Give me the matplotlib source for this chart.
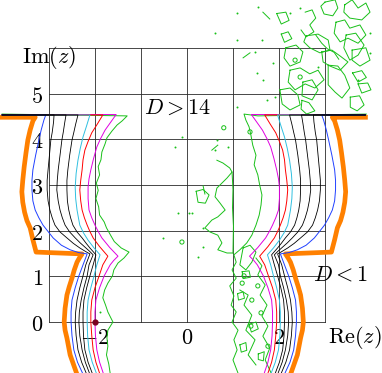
import numpy as np
import matplotlib
matplotlib.use("Agg")
import matplotlib.pyplot as plt

plt.rcParams['mathtext.fontset'] = 'cm'
plt.rcParams['font.family'] = 'serif'

# grid and tick values
grid_re = [-3, -2, -1, 0, 1, 2, 3]
grid_im = [0, 1, 2, 3, 4, 5, 6]
re_ticks = [-2, 0, 2]
im_ticks = [0, 1, 2, 3, 4, 5]

# left-hand contour curves, (Re, Im)
orange_left = [(-4.02, 4.48), (-3.30, 4.48), (-3.35, 4.40), (-3.41, 4.20), (-3.46, 3.98),
               (-3.50, 3.70), (-3.54, 3.39), (-3.57, 3.10), (-3.59, 2.85), (-3.57, 2.62),
               (-3.53, 2.40), (-3.48, 2.22), (-3.41, 2.06), (-3.35, 1.80), (-3.28, 1.53),
               (-2.28, 1.49), (-2.34, 1.40), (-2.39, 1.31), (-2.45, 1.14), (-2.50, 0.96),
               (-2.56, 0.77), (-2.61, 0.59), (-2.65, 0.30), (-2.67, 0.00), (-2.65, -0.18),
               (-2.61, -0.35), (-2.54, -0.72), (-2.47, -0.92), (-2.40, -1.12)]
blue_left = [(-4.02, 4.53), (-3.07, 4.53), (-3.11, 4.42), (-3.17, 4.20), (-3.22, 3.98),
             (-3.29, 3.65), (-3.35, 3.33), (-3.37, 3.10), (-3.37, 2.89), (-3.35, 2.65),
             (-3.30, 2.45), (-3.22, 2.28), (-3.13, 2.12), (-2.91, 1.84), (-2.73, 1.68),
             (-2.54, 1.58), (-2.36, 1.52), (-2.17, 1.49), (-2.26, 1.25), (-2.35, 1.01),
             (-2.43, 0.75), (-2.50, 0.48), (-2.52, 0.22), (-2.52, 0.00), (-2.50, -0.30),
             (-2.46, -0.61), (-2.38, -0.88), (-2.27, -1.12)]
blackA_left = [(-4.02, 4.53), (-2.89, 4.53), (-2.90, 4.38), (-2.93, 4.15), (-2.96, 3.98),
               (-2.99, 3.65), (-3.02, 3.33), (-3.04, 3.10), (-3.04, 2.89), (-3.02, 2.65),
               (-2.98, 2.45), (-2.93, 2.28), (-2.87, 2.12), (-2.76, 1.97), (-2.61, 1.84),
               (-2.47, 1.72), (-2.33, 1.62), (-2.20, 1.54), (-2.11, 1.49), (-2.20, 1.25),
               (-2.26, 1.01), (-2.33, 0.75), (-2.39, 0.48), (-2.42, 0.22), (-2.43, 0.00),
               (-2.41, -0.30), (-2.37, -0.61), (-2.29, -0.88), (-2.19, -1.12)]
blackB_left = [(-4.02, 4.53), (-2.63, 4.53), (-2.66, 4.35), (-2.69, 4.15), (-2.72, 3.98),
               (-2.76, 3.65), (-2.80, 3.33), (-2.82, 3.10), (-2.83, 2.89), (-2.80, 2.65),
               (-2.76, 2.45), (-2.71, 2.28), (-2.65, 2.12), (-2.55, 1.97), (-2.43, 1.84),
               (-2.32, 1.73), (-2.22, 1.64), (-2.12, 1.55), (-2.04, 1.47), (-2.13, 1.25),
               (-2.17, 1.01), (-2.24, 0.75), (-2.30, 0.48), (-2.34, 0.22), (-2.35, 0.00),
               (-2.33, -0.30), (-2.28, -0.61), (-2.21, -0.88), (-2.12, -1.12)]
blackC_left = [(-4.02, 4.53), (-2.37, 4.53), (-2.42, 4.33), (-2.46, 4.15), (-2.50, 3.98),
               (-2.55, 3.65), (-2.59, 3.33), (-2.61, 3.10), (-2.61, 2.89), (-2.60, 2.65),
               (-2.57, 2.45), (-2.53, 2.28), (-2.48, 2.12), (-2.39, 1.97), (-2.28, 1.84),
               (-2.19, 1.72), (-2.11, 1.62), (-2.04, 1.54), (-1.98, 1.47), (-2.04, 1.25),
               (-2.11, 1.01), (-2.18, 0.75), (-2.24, 0.48), (-2.26, 0.22), (-2.26, 0.00),
               (-2.25, -0.30), (-2.22, -0.61), (-2.15, -0.88), (-2.06, -1.12)]
cyan_left = [(-4.02, 4.53), (-2.11, 4.53), (-2.18, 4.30), (-2.26, 4.05), (-2.32, 3.80),
             (-2.37, 3.54), (-2.41, 3.25), (-2.43, 2.95), (-2.42, 2.70), (-2.39, 2.45),
             (-2.36, 2.28), (-2.33, 2.12), (-2.25, 1.95), (-2.15, 1.79), (-2.02, 1.62),
             (-1.89, 1.47), (-1.96, 1.25), (-2.02, 1.01), (-2.09, 0.75), (-2.15, 0.48),
             (-2.17, 0.22), (-2.17, 0.00), (-2.16, -0.30), (-2.13, -0.61), (-2.06, -0.88),
             (-1.97, -1.12)]
red_left = [(-4.02, 4.53), (-1.83, 4.53), (-1.95, 4.33), (-2.07, 4.14), (-2.15, 3.95),
            (-2.22, 3.76), (-2.26, 3.55), (-2.28, 3.33), (-2.31, 3.10), (-2.33, 2.89),
            (-2.31, 2.65), (-2.28, 2.45), (-2.23, 2.28), (-2.17, 2.12), (-2.11, 1.98),
            (-2.04, 1.84), (-1.90, 1.65), (-1.72, 1.44), (-1.83, 1.25), (-1.91, 1.01),
            (-2.00, 0.75), (-2.07, 0.48), (-2.09, 0.22), (-2.09, 0.00), (-2.07, -0.30),
            (-2.04, -0.61), (-1.98, -0.88), (-1.90, -1.12)]
magenta_left = [(-4.02, 4.54), (-1.54, 4.54), (-1.66, 4.37), (-1.78, 4.20), (-1.88, 4.01),
                (-1.96, 3.83), (-2.03, 3.58), (-2.09, 3.33), (-2.13, 3.13), (-2.15, 2.95),
                (-2.15, 2.70), (-2.13, 2.45), (-2.07, 2.28), (-2.00, 2.12), (-1.93, 1.98),
                (-1.85, 1.84), (-1.68, 1.63), (-1.50, 1.44), (-1.59, 1.35), (-1.67, 1.25),
                (-1.80, 1.01), (-1.90, 0.75), (-1.98, 0.48), (-2.00, 0.22), (-2.00, 0.00),
                (-1.99, -0.30), (-1.96, -0.61), (-1.90, -0.88), (-1.82, -1.12)]
green_left = [(-4.02, 4.55), (-1.30, 4.51), (-1.41, 4.40), (-1.52, 4.31), (-1.63, 4.18),
              (-1.74, 4.03), (-1.78, 3.90), (-1.85, 3.72), (-1.87, 3.55), (-1.93, 3.40),
              (-1.90, 3.22), (-1.97, 3.04), (-1.93, 2.88), (-1.98, 2.70), (-1.92, 2.52),
              (-1.90, 2.34), (-1.80, 2.19), (-1.75, 2.06), (-1.65, 1.88), (-1.58, 1.76),
              (-1.43, 1.62), (-1.26, 1.53), (-1.37, 1.40), (-1.50, 1.29), (-1.59, 1.14),
              (-1.62, 1.01), (-1.72, 0.85), (-1.79, 0.70), (-1.83, 0.53), (-1.77, 0.37),
              (-1.72, 0.22), (-1.61, 0.00), (-1.72, -0.18), (-1.74, -0.35), (-1.72, -0.53),
              (-1.75, -0.72), (-1.70, -0.92), (-1.67, -1.12)]

# the smooth curves are mirror symmetric about Re = -0.07
mirror_re = -0.07

# right-hand green contour (not symmetric, noisy)
green_right = [(3.90, 4.55), (1.54, 4.51), (1.24, 4.55), (1.28, 4.42), (1.35, 4.27),
               (1.39, 4.09), (1.43, 3.87), (1.50, 3.65), (1.46, 3.44), (1.54, 3.22),
               (1.58, 3.00), (1.63, 2.78), (1.61, 2.56), (1.57, 2.34), (1.50, 2.12),
               (1.41, 1.90), (1.30, 1.73), (1.15, 1.58), (1.02, 1.47), (1.07, 1.31),
               (0.98, 1.14), (1.07, 0.96), (0.93, 0.79), (1.02, 0.57), (0.96, 0.37),
               (1.07, 0.22), (0.98, 0.00), (1.11, -0.18), (1.02, -0.39), (1.09, -0.61),
               (1.00, -0.83), (1.11, -1.12)]
green_strip_edge = [(1.50, 1.40), (1.63, 1.23), (1.54, 1.03), (1.70, 0.81), (1.59, 0.59),
                    (1.74, 0.37), (1.63, 0.13), (1.76, -0.09), (1.65, -0.31), (1.80, -0.57),
                    (1.70, -0.83), (1.83, -1.12)]
green_strip_mid = [(1.15, 0.70), (1.33, 0.59), (1.24, 0.37), (1.41, 0.15), (1.28, -0.18),
                   (1.48, -0.39), (1.33, -0.72), (1.50, -0.94)]
green_chain = [(0.65, 3.54), (0.78, 3.48), (0.93, 3.37), (0.98, 3.28), (0.87, 3.15),
               (0.76, 3.04), (0.65, 2.93), (0.61, 2.74), (0.72, 2.60), (0.83, 2.45),
               (0.67, 2.30), (0.54, 2.23), (0.39, 2.06), (0.50, 1.97), (0.67, 1.90),
               (0.76, 1.73), (0.67, 1.58), (0.87, 1.51), (1.00, 1.51)]
green_chain_side = [(0.98, 3.28), (1.00, 2.90), (0.99, 2.50), (1.01, 2.10), (1.00, 1.51)]
green_knot = [(1.22, 1.62), (1.37, 1.68), (1.50, 1.53), (1.41, 1.31), (1.28, 1.14),
              (1.15, 1.25), (1.22, 1.62)]

# small noise loops in the lower strip
strip_loops = [
    [(0.20, 2.86), (0.35, 2.90), (0.48, 2.78), (0.40, 2.60), (0.24, 2.62), (0.20, 2.86)],
    [(1.10, 0.62), (1.22, 0.66), (1.25, 0.52), (1.12, 0.48), (1.10, 0.62)],
    [(1.35, -0.05), (1.50, 0.00), (1.55, -0.15), (1.40, -0.22), (1.35, -0.05)],
    [(1.15, -0.50), (1.28, -0.45), (1.30, -0.62), (1.18, -0.66), (1.15, -0.50)],
    [(1.55, -0.70), (1.68, -0.65), (1.66, -0.85), (1.55, -0.82), (1.55, -0.70)],
    [(1.20, 1.10), (1.35, 1.12), (1.38, 0.98), (1.22, 0.95), (1.20, 1.10)],
]

# noise loops in the upper right
noise_loops = [
    [(3.00, 7.00), (3.22, 7.05), (3.28, 6.87), (3.17, 6.70), (2.98, 6.74), (2.91, 6.91), (3.00, 7.00)],
    [(3.43, 6.94), (3.59, 7.05), (3.72, 6.87), (3.89, 6.98), (3.98, 6.78), (3.80, 6.61),
     (3.54, 6.65), (3.41, 6.78), (3.43, 6.94)],
    [(2.57, 6.78), (2.72, 6.83), (2.80, 6.65), (2.67, 6.50), (2.76, 6.35), (2.59, 6.24), (2.48, 6.39)],
    [(3.24, 6.56), (3.43, 6.61), (3.54, 6.43), (3.76, 6.50), (3.89, 6.28), (3.72, 6.10),
     (3.50, 6.21), (3.33, 6.13), (3.20, 6.32), (3.24, 6.56)],
    [(2.59, 6.26), (2.85, 6.30), (3.07, 6.17), (3.11, 5.95), (2.89, 5.89), (2.67, 6.00),
     (2.54, 6.13), (2.59, 6.26)],
    [(3.46, 6.28), (3.67, 6.32), (3.85, 6.06), (3.72, 5.84), (3.54, 5.73), (3.41, 6.00), (3.46, 6.28)],
    [(2.93, 5.91), (3.15, 5.95), (3.33, 5.82), (3.50, 5.69), (3.33, 5.51), (3.11, 5.60),
     (2.96, 5.69), (2.93, 5.91)],
    [(2.15, 6.00), (2.37, 6.06), (2.52, 5.91), (2.46, 5.69), (2.24, 5.60), (2.11, 5.78), (2.15, 6.00)],
    [(2.24, 5.51), (2.46, 5.56), (2.67, 5.43), (2.85, 5.51), (2.98, 5.30), (2.78, 5.12),
     (2.57, 5.21), (2.35, 5.08), (2.20, 5.25), (2.24, 5.51)],
    [(3.07, 5.62), (3.28, 5.60), (3.43, 5.40), (3.54, 5.12), (3.37, 4.90), (3.22, 5.03),
     (3.07, 5.19), (3.07, 5.62)],
    [(2.02, 5.08), (2.24, 5.12), (2.41, 4.97), (2.46, 4.75), (2.24, 4.64), (2.07, 4.77), (2.02, 5.08)],
    [(2.52, 5.25), (2.72, 5.30), (2.85, 5.08), (2.72, 4.86), (2.50, 4.95), (2.52, 5.25)],
    [(3.72, 5.21), (3.93, 5.23), (4.00, 5.08), (3.80, 5.01), (3.72, 5.21)],
    [(3.59, 5.95), (3.89, 6.00), (3.98, 5.73), (3.76, 5.60), (3.59, 5.73), (3.59, 5.95)],
    [(1.95, 6.75), (2.15, 6.78), (2.22, 6.60), (2.05, 6.52), (1.95, 6.75)],
    [(2.80, 6.28), (2.93, 6.10), (3.05, 5.98), (3.20, 5.90), (3.30, 5.75)],
    [(2.50, 4.85), (2.65, 4.80), (2.78, 4.62), (2.60, 4.55), (2.48, 4.66), (2.50, 4.85)],
    [(3.55, 4.92), (3.75, 4.95), (3.85, 4.75), (3.70, 4.62), (3.55, 4.70), (3.55, 4.92)],
    [(2.05, 6.30), (2.20, 6.35), (2.28, 6.20), (2.12, 6.12), (2.05, 6.30)],
    [(3.60, 5.45), (3.80, 5.50), (3.90, 5.35), (3.72, 5.25), (3.60, 5.45)],
]
noise_dashes = [
    [(1.65, 6.78), (1.80, 6.63)],
    [(1.22, 5.78), (1.37, 5.89)],
    [(0.54, 3.76), (0.67, 3.87)],
    [(0.35, 2.98), (0.39, 2.80)],
]
noise_dots_re = [1.54, 2.24, 2.46, 1.09, 0.61, 1.09, 1.63, 1.48, 1.87, 1.52, 1.65, 1.74, 1.91,
                 1.09, 3.98, 3.98, 2.85, 3.72, -0.26, -0.52, 0.04, -0.20, 0.35, 0.35, 0.24,
                 0.89, 0.65, 0.11, -0.11, -1.89, 0.61]
noise_dots_im = [6.89, 6.76, 6.87, 6.76, 6.32, 6.17, 6.17, 5.91, 5.67, 5.45, 5.30, 4.86, 4.92,
                 4.70, 5.89, 6.32, 5.58, 5.30, 3.83, 1.84, 2.39, 2.39, 2.06, 1.64, 1.42,
                 3.83, 3.98, 2.39, 4.05, 0.22, 3.76]
noise_rings_re = [0.80, 1.37, -0.11, 2.35, 2.46, 1.24, 1.54, 1.61, 1.39, 1.76, 1.20, 1.41]
noise_rings_im = [4.25, 4.16, 1.75, 5.73, 5.36, 1.01, 0.79, 0.20, -0.09, -0.53, 0.85, 0.48]

marker_point = (-2.0, 0.0)

fig = plt.figure(figsize=(3.82, 3.73), dpi=100)
ax = fig.add_axes([0, 0, 1, 1])
ax.set_xlim(-4.065, 4.24)
ax.set_ylim(-1.116, 7.046)
ax.axis('off')

# grid
for g in grid_re:
    ax.plot([g, g], [grid_im[0], grid_im[-1]], color='#2a2a2a', lw=0.6, zorder=1)
for g in grid_im:
    ax.plot([grid_re[0], grid_re[-1]], [g, g], color='#2a2a2a', lw=0.6, zorder=1)

green = '#18c018'

def draw(pts, color, lw, z, mirror=False):
    p = np.array(pts)
    ax.plot(p[:, 0], p[:, 1], color=color, lw=lw, zorder=z, solid_joinstyle='round')
    if mirror:
        ax.plot(2 * mirror_re - p[:, 0], p[:, 1], color=color, lw=lw, zorder=z,
                solid_joinstyle='round')

# noise first, under the curves
for loop in noise_loops + noise_dashes + strip_loops:
    draw(loop, green, 0.7, 2)
for pts in [green_right, green_strip_edge, green_strip_mid, green_chain,
            green_chain_side, green_knot]:
    draw(pts, green, 0.7, 2)
ax.scatter(noise_dots_re, noise_dots_im, s=2, color=green, lw=0, zorder=2)
ax.scatter(noise_rings_re, noise_rings_im, s=9, facecolors='none', edgecolors=green,
           linewidths=0.7, zorder=2)

draw(orange_left, '#ff8000', 3.4, 3, mirror=True)
draw(green_left, green, 0.7, 4)
draw(magenta_left, '#e000e0', 0.7, 4, mirror=True)
draw(red_left, '#ff0000', 0.7, 4, mirror=True)
draw(cyan_left, '#30c0e0', 0.7, 4, mirror=True)
draw(blue_left, '#2040ff', 0.7, 4, mirror=True)
draw(blackC_left, 'black', 0.6, 4, mirror=True)
draw(blackB_left, 'black', 0.6, 4, mirror=True)
draw(blackA_left, 'black', 0.6, 4, mirror=True)

ax.plot(*marker_point, 'o', color='#7a0020', ms=3.5, zorder=5)

# labels
fs = 16
for v in im_ticks:
    ax.text(-3.13, v - 0.07, f'${v}$', ha='right', va='center', fontsize=fs)
for v in re_ticks:
    ax.text(v, -0.34, f'${v}$', ha='center', va='center', fontsize=fs)
ax.text(-3.0, 5.67, r'$\mathrm{Im}(z)$', ha='center', va='baseline', fontsize=fs)
ax.text(3.65, -0.34, r'$\mathrm{Re}(z)$', ha='center', va='center', fontsize=fs)
ax.text(-0.2, 4.68, r'$D>14$', ha='center', va='center', fontsize=fs)
ax.text(3.33, 1.03, r'$D<1$', ha='center', va='center', fontsize=fs)

fig.savefig('out.png', dpi=100)
